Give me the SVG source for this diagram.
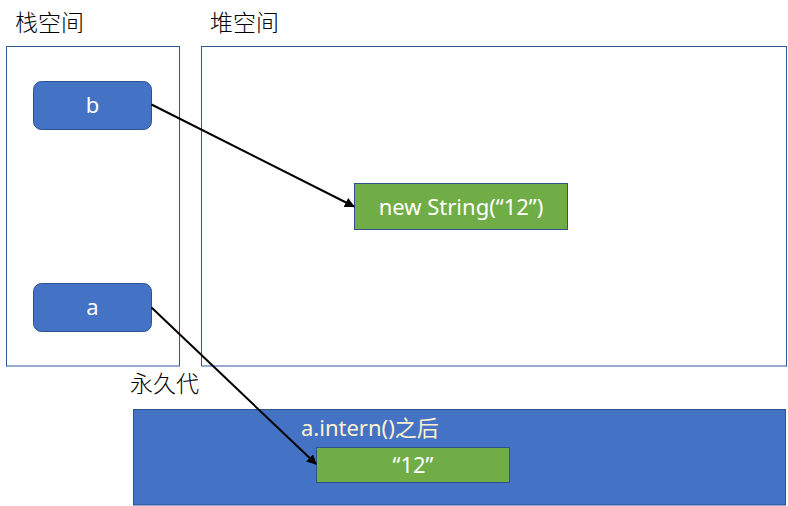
<svg xmlns="http://www.w3.org/2000/svg" width="788" height="506" viewBox="0 0 788 506">
<style>
.region{fill:#ffffff;stroke:#2F5597;stroke-width:1}
.ref{fill:#4472C4;stroke:#2F528F;stroke-width:1}
.obj{fill:#70AD47;stroke:#2F528F;stroke-width:1}
.title{font-family:"Microsoft YaHei","Noto Sans CJK SC",sans-serif;font-size:23px;font-weight:300;fill:#000000}
.lbl{font-family:"Microsoft YaHei","Noto Sans","Noto Sans CJK SC",sans-serif;font-size:22px;fill:#ffffff;text-anchor:middle}
.conn{stroke:#000000;stroke-width:2;fill:none;marker-end:url(#arr)}
</style>
<defs>
<marker id="arr" viewBox="0 0 10 10" refX="9" refY="5" markerWidth="5" markerHeight="5" orient="auto" markerUnits="strokeWidth">
<path d="M0,0 L10,5 L0,10 z" fill="#000000"/>
</marker>
</defs>
<rect width="788" height="506" fill="#ffffff"/>
<g id="stack">
<rect class="region" x="6.5" y="46.5" width="173" height="319.5"/>
<text class="title" x="15" y="31">栈空间</text>
</g>
<g id="heap">
<rect class="region" x="201.5" y="46.5" width="585" height="319.5"/>
<text class="title" x="210" y="31">堆空间</text>
</g>
<g id="perm">
<rect class="ref" x="133.5" y="409.5" width="652" height="95.5"/>
<text class="title" x="130" y="392">永久代</text>
<text x="301" y="436" font-family="'Microsoft YaHei','Noto Sans','Noto Sans CJK SC',sans-serif" font-size="22" fill="#FFF2CC">a.intern()之后</text>
</g>
<g id="b">
<rect class="ref" x="33.5" y="81.5" width="118" height="48" rx="8"/>
<text class="lbl" x="92.5" y="113">b</text>
</g>
<g id="a">
<rect class="ref" x="33.5" y="283.5" width="118" height="48" rx="8"/>
<text class="lbl" x="92.5" y="315">a</text>
</g>
<g id="newString">
<rect class="obj" x="354.5" y="183.5" width="213" height="46"/>
<text class="lbl" x="461" y="214.5">new String(“12”)</text>
</g>
<g id="literal">
<rect class="obj" x="316.5" y="447.5" width="193" height="35"/>
<text class="lbl" x="413" y="472.5">“12”</text>
</g>
<g id="connectors">
<line class="conn" x1="151.5" y1="104.5" x2="354" y2="206.5"/>
<line class="conn" x1="151.5" y1="307.5" x2="316" y2="464"/>
</g>
</svg>
